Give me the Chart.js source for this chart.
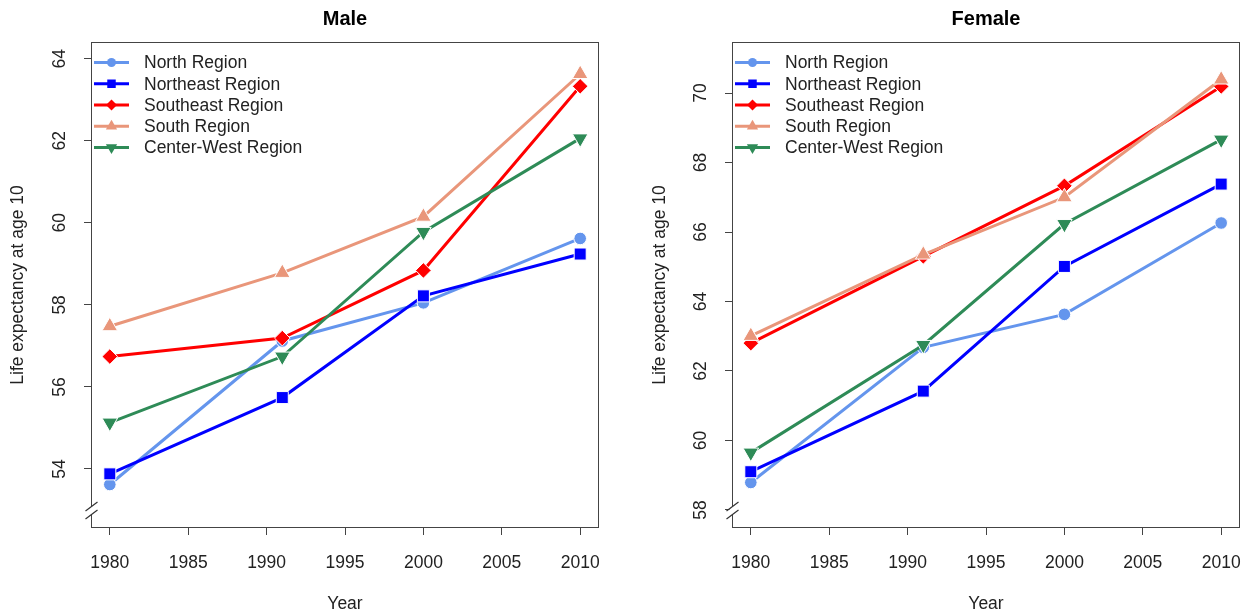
<!DOCTYPE html>
<html>
<head>
<meta charset="utf-8">
<script src="https://cdn.jsdelivr.net/npm/chart.js@4/dist/chart.umd.min.js"></script>
<style>
html,body{margin:0;padding:0;background:#fff;}
#wrap{position:relative;width:1245px;height:615px;overflow:hidden;}
.panel{position:absolute;top:0;height:615px;}
#p1{left:0;width:622px;}
#p2{left:622px;width:628px;}
</style>
</head>
<body>
<div id="wrap">
  <div class="panel" id="p1"><canvas id="c1"></canvas></div>
  <div class="panel" id="p2"><canvas id="c2"></canvas></div>
</div>
<script>
// ---------- data ----------
const years = [1980, 1991, 2000, 2010];
const regions = ['North Region', 'Northeast Region', 'Southeast Region', 'South Region', 'Center-West Region'];

const maleNorth      = [53.62, 57.12, 58.05, 59.62];
const maleNortheast  = [53.88, 55.74, 58.22, 59.24];
const maleSoutheast  = [56.74, 57.19, 58.84, 63.33];
const maleSouth      = [57.48, 58.78, 60.15, 63.63];
const maleCenterWest = [55.13, 56.74, 59.78, 62.06];

const femaleNorth      = [58.79, 62.68, 63.63, 66.26];
const femaleNortheast  = [59.10, 61.42, 65.01, 67.38];
const femaleSoutheast  = [62.80, 65.30, 67.33, 70.19];
const femaleSouth      = [63.01, 65.35, 67.00, 70.39];
const femaleCenterWest = [59.65, 62.75, 66.23, 68.66];

const xTickLabels = [1980, 1985, 1990, 1995, 2000, 2005, 2010];
const maleYTicks = [54, 56, 58, 60, 62, 64];
const femaleYTicks = [58, 60, 62, 64, 66, 68, 70];
const maleBreakAt = 53;
const femaleBreakAt = 58;

// ---------- styles ----------
const FONT = '"Liberation Sans", Arial, Helvetica, sans-serif';
const colors = ['#6495ED', '#0000FF', '#FF0000', '#E9967A', '#2E8B57'];
const pStyles = ['circle', 'rect', 'rectRot', 'triangle', 'triangle'];
const pRot = [0, 0, 0, 0, 180];
const pRad = [6.3, 8.5, 7.8, 9, 9];
const legRad = [4.5, 6, 5.5, 6.5, 6.5];

function drawMarker(ctx, style, rot, r, x, y) {
  if (Chart.helpers && Chart.helpers.drawPoint) {
    Chart.helpers.drawPoint(ctx, {pointStyle: style, rotation: rot, radius: r, borderWidth: 0}, x, y);
  } else {
    ctx.beginPath(); ctx.arc(x, y, r, 0, Math.PI * 2); ctx.fill();
  }
}

const decor = {
  id: 'decor',
  afterDraw(chart, args, opts) {
    const ctx = chart.ctx, a = chart.chartArea, ys = chart.scales.y;
    ctx.save();
    ctx.setLineDash([]);
    // box
    ctx.strokeStyle = '#444'; ctx.lineWidth = 1;
    ctx.strokeRect(Math.round(a.left) + 0.5, Math.round(a.top) + 0.5,
                   Math.round(a.right - a.left) - 1, Math.round(a.bottom - a.top) - 1);
    // axis break
    const L = Math.round(a.left) + 0.5;
    const yb = ys.getPixelForValue(opts.breakAt);
    ctx.fillStyle = '#fff';
    ctx.fillRect(L - 3, yb - 3.5, 6, 8);
    ctx.beginPath();
    ctx.moveTo(L - 6, yb + 1); ctx.lineTo(L + 6, yb - 8);
    ctx.moveTo(L - 6, yb + 9); ctx.lineTo(L + 6, yb);
    ctx.strokeStyle = '#333'; ctx.lineWidth = 1.2; ctx.stroke();
    // y tick labels (rotated, R style)
    ctx.fillStyle = '#222';
    ctx.font = '17.5px ' + FONT;
    ctx.textAlign = 'center'; ctx.textBaseline = 'middle';
    ys.ticks.forEach(t => {
      const p = ys.getPixelForValue(t.value);
      ctx.save(); ctx.translate(a.left - 31, p); ctx.rotate(-Math.PI / 2);
      ctx.fillText(String(t.value), 0, 0); ctx.restore();
    });
    // title
    ctx.font = 'bold 20px ' + FONT;
    ctx.fillStyle = '#000';
    ctx.fillText(opts.title, (a.left + a.right) / 2, 19);
    // legend
    ctx.font = '17.5px ' + FONT;
    ctx.textAlign = 'left';
    chart.data.datasets.forEach((ds, i) => {
      const y = a.top + 20.5 + i * 21.25;
      ctx.strokeStyle = ds.borderColor; ctx.lineWidth = 3; ctx.lineCap = 'butt';
      ctx.beginPath(); ctx.moveTo(a.left + 3, y); ctx.lineTo(a.left + 38, y); ctx.stroke();
      ctx.fillStyle = ds.borderColor; ctx.lineWidth = 1;
      drawMarker(ctx, pStyles[i], pRot[i], legRad[i], a.left + 20.5, y);
      ctx.fillStyle = '#222';
      ctx.fillText(ds.label, a.left + 53, y + 1);
    });
    ctx.restore();
  }
};

function makeChart(id, title, series, yMin, yMax, yTicks, breakAt, axisW, padR, yTitlePad) {
  const datasets = regions.map((name, i) => ({
    label: name,
    data: years.map((yr, j) => ({x: yr, y: series[i][j]})),
    borderColor: colors[i],
    backgroundColor: colors[i],
    borderWidth: 3,
    pointStyle: pStyles[i],
    pointRotation: pRot[i],
    pointRadius: pRad[i],
    pointHoverRadius: pRad[i],
    pointBackgroundColor: colors[i],
    pointBorderColor: '#fff',
    pointBorderWidth: 1,
    order: regions.length - i,
    tension: 0,
    fill: false
  }));
  return new Chart(document.getElementById(id), {
    type: 'line',
    data: {datasets},
    plugins: [decor],
    options: {
      responsive: true,
      maintainAspectRatio: false,
      devicePixelRatio: 1,
      animation: false,
      events: [],
      layout: {padding: {left: 0, right: padR, top: 42, bottom: 0}},
      plugins: {
        legend: {display: false},
        title: {display: false},
        tooltip: {enabled: false},
        decor: {title, breakAt}
      },
      scales: {
        x: {
          type: 'linear',
          min: 1978.8, max: 2011.2,
          afterBuildTicks: s => { s.ticks = xTickLabels.map(v => ({value: v})); },
          afterFit: s => { s.height = 87; s.paddingLeft = 0; s.paddingRight = 0; },
          grid: {drawOnChartArea: false, drawTicks: true, tickLength: 7, tickColor: '#444', tickWidth: 1},
          border: {display: false},
          ticks: {color: '#222', font: {family: FONT, size: 17.5}, padding: 18, maxRotation: 0, autoSkip: false,
                  callback: v => String(v)},
          title: {display: true, text: 'Year', color: '#222', font: {family: FONT, size: 17.5}, padding: {top: 0, bottom: 0}}
        },
        y: {
          type: 'linear',
          min: yMin, max: yMax,
          afterBuildTicks: s => { s.ticks = yTicks.map(v => ({value: v})); },
          afterFit: s => { s.width = axisW; s.paddingTop = 0; s.paddingBottom = 0; },
          grid: {drawOnChartArea: false, drawTicks: true, tickLength: 7, tickColor: '#444', tickWidth: 1},
          border: {display: false},
          ticks: {display: false},
          title: {display: true, text: 'Life expectancy at age 10', color: '#222', font: {family: FONT, size: 17.5}, padding: {top: yTitlePad + 1.5, bottom: 0}}
        }
      }
    }
  });
}

makeChart('c1', 'Male',
  [maleNorth, maleNortheast, maleSoutheast, maleSouth, maleCenterWest],
  52.56, 64.41, maleYTicks, maleBreakAt, 91, 23, 6.5);
makeChart('c2', 'Female',
  [femaleNorth, femaleNortheast, femaleSoutheast, femaleSouth, femaleCenterWest],
  57.48, 71.47, femaleYTicks, femaleBreakAt, 110, 5, 26);
</script>
</body>
</html>
